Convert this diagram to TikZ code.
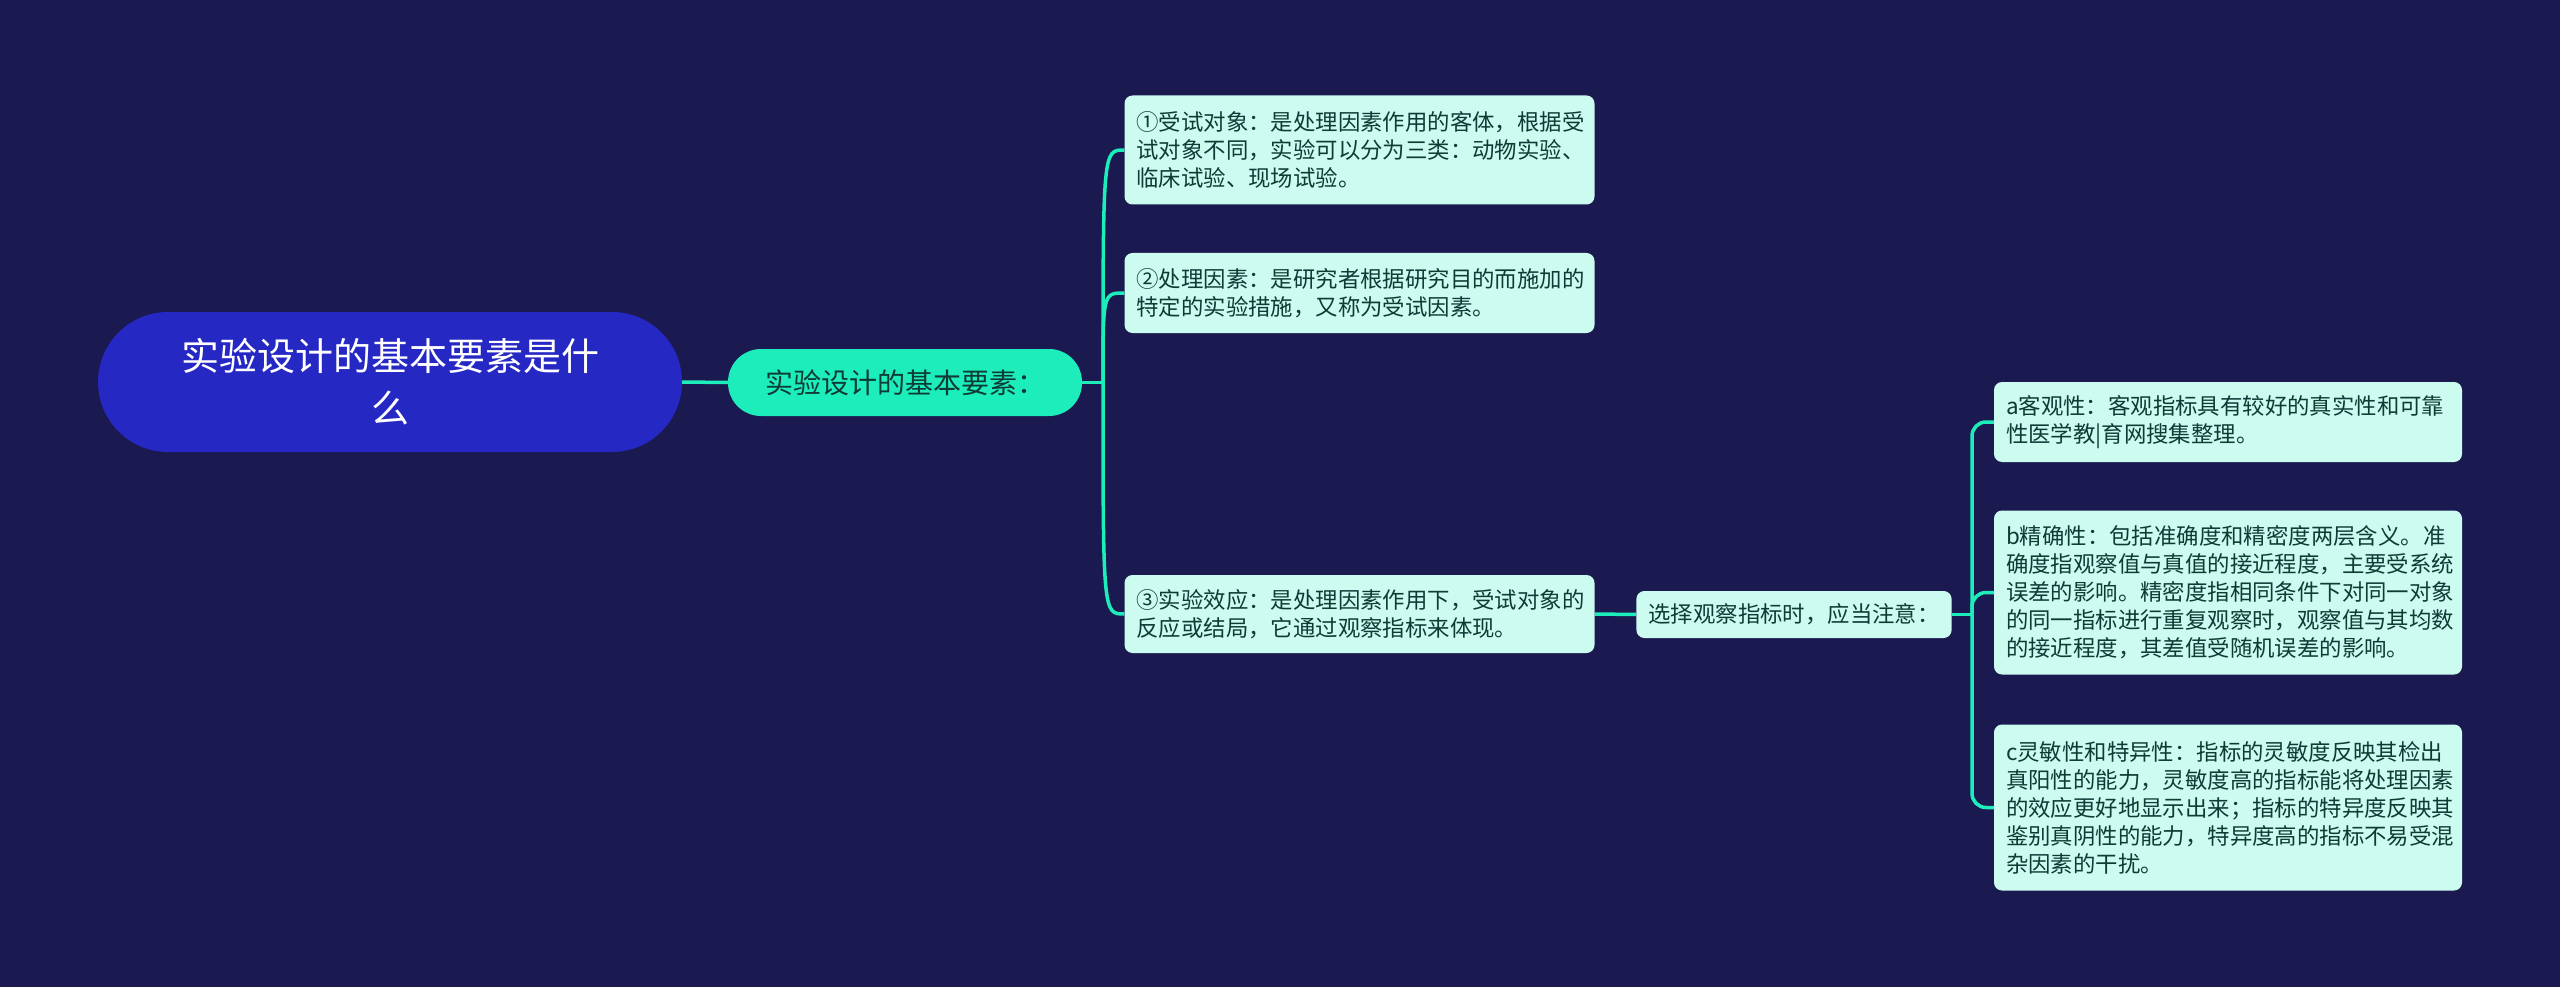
\documentclass[tikz,border=0pt]{standalone}
\usepackage{fontspec}
\usetikzlibrary{backgrounds}
\newfontfamily\cjk{Noto Sans CJK SC}
\definecolor{bgc}{HTML}{1A1950}
\definecolor{rootc}{HTML}{2628C4}
\definecolor{tealc}{HTML}{1DEDBA}
\definecolor{boxc}{HTML}{CCFBEF}
\definecolor{txtc}{HTML}{0F3B36}
\tikzset{
  rootbox/.style={fill=rootc, rounded corners=70pt, minimum width=584pt, minimum height=140pt, inner sep=0pt, text=white, align=center, font=\cjk\fontsize{38}{52}\selectfont},
  mainbox/.style={fill=tealc, rounded corners=33pt, minimum width=354pt, minimum height=67pt, inner sep=0pt, text=txtc, align=center, font=\cjk\fontsize{28}{32}\selectfont},
  leafbox/.style={fill=boxc, rounded corners=8pt, inner xsep=12pt, inner ysep=0pt, text=txtc, align=left, font=\cjk\fontsize{22.4}{28}\selectfont},
  link/.style={draw=tealc, line width=3.5pt},
}
\begin{document}
\begin{tikzpicture}[x=1pt,y=-1pt]
\useasboundingbox (0,0) rectangle (2560,987);

\node[rootbox] (root) at (390,382) {实验设计的基本要素是什\\么};
\node[mainbox] (main) at (905,382.5) {实验设计的基本要素：};

\node[leafbox, text width=446pt, minimum height=109pt] (c1) at (1359.5,150) {①受试对象：是处理因素作用的客体，根据受\\试对象不同，实验可以分为三类：动物实验、\\临床试验、现场试验。};
\node[leafbox, text width=446pt, minimum height=80pt] (c2) at (1359.5,293) {②处理因素：是研究者根据研究目的而施加的\\特定的实验措施，又称为受试因素。};
\node[leafbox, text width=446pt, minimum height=78pt] (c3) at (1359.5,614) {③实验效应：是处理因素作用下，受试对象的\\反应或结局，它通过观察指标来体现。};

\node[leafbox, minimum width=312pt, minimum height=47pt, align=center] (sel) at (1794,614.5) {选择观察指标时，应当注意：};

\node[leafbox, text width=444pt, minimum height=80pt] (ga) at (2228,422) {a客观性：客观指标具有较好的真实性和可靠\\性医学教|育网搜集整理。};
\node[leafbox, text width=444pt, minimum height=164pt] (gb) at (2228,592.5) {b精确性：包括准确度和精密度两层含义。准\\确度指观察值与真值的接近程度，主要受系统\\误差的影响。精密度指相同条件下对同一对象\\的同一指标进行重复观察时，观察值与其均数\\的接近程度，其差值受随机误差的影响。};
\node[leafbox, text width=444pt, minimum height=166pt] (gc) at (2228,807.5) {c灵敏性和特异性：指标的灵敏度反映其检出\\真阳性的能力，灵敏度高的指标能将处理因素\\的效应更好地显示出来；指标的特异度反映其\\鉴别真阴性的能力，特异度高的指标不易受混\\杂因素的干扰。};

\coordinate (t1) at (1103,382.5);
\coordinate (t2) at (1972,614.5);

\begin{scope}[on background layer]
\fill[bgc] (0,0) rectangle (2560,987);
\draw[link] (root.east) -- (main.west);
\draw[link] (main.east) -- (t1);
\draw[link] (t1) .. controls (1103,150) .. (c1.west);
\draw[link] (t1) .. controls (1103,293) .. (c2.west);
\draw[link] (t1) .. controls (1103,614) .. (c3.west);
\draw[link] (c3.east) -- (sel.west);
\draw[link] (sel.east) -- (t2);
\draw[link, rounded corners=14pt] (t2) |- (ga.west);
\draw[link, rounded corners=14pt] (t2) |- (gb.west);
\draw[link, rounded corners=14pt] (t2) |- (gc.west);
\end{scope}
\end{tikzpicture}
\end{document}
